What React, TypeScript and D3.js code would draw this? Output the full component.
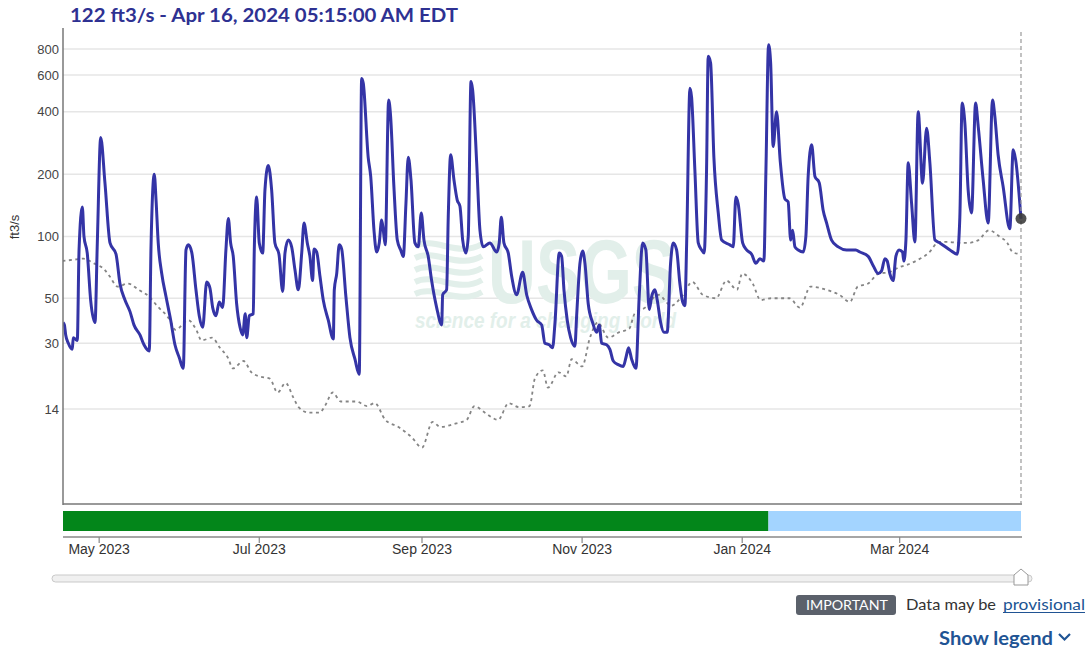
import React from 'react';
import * as d3 from 'd3';

const flowTimes = [
  "2023-04-17T06","2023-04-17T18","2023-04-18T06","2023-04-19T06","2023-04-20T18","2023-04-21T03","2023-04-22T16","2023-04-23T08","2023-04-24T14","2023-04-25T05","2023-04-26T11","2023-04-27T18","2023-04-29T10","2023-04-30T07",
  "2023-05-01T14","2023-05-03T05","2023-05-05T03","2023-05-07T10","2023-05-08T22","2023-05-10T20","2023-05-12T18","2023-05-14T06","2023-05-16T13","2023-05-18T02","2023-05-20T02","2023-05-20T18","2023-05-22T00","2023-05-22T16","2023-05-23T12","2023-05-24T20","2023-05-26T11","2023-05-28T06","2023-05-29T21","2023-05-31T12",
  "2023-06-02T01","2023-06-03T02","2023-06-03T23","2023-06-05T06","2023-06-06T21","2023-06-08T03","2023-06-09T11","2023-06-10T23","2023-06-12T05","2023-06-13T06","2023-06-14T12","2023-06-15T18","2023-06-17T01","2023-06-18T07","2023-06-19T05","2023-06-20T02","2023-06-21T02","2023-06-22T09","2023-06-23T16","2023-06-24T16","2023-06-25T16","2023-06-26T05","2023-06-27T05","2023-06-28T17","2023-06-29T02","2023-06-30T00",
  "2023-07-01T00","2023-07-02T07","2023-07-03T04","2023-07-04T10","2023-07-05T17","2023-07-06T23","2023-07-08T12","2023-07-09T22","2023-07-10T19","2023-07-12T01","2023-07-13T08","2023-07-14T14","2023-07-15T21","2023-07-17T04","2023-07-18T01","2023-07-19T07","2023-07-20T07","2023-07-21T08","2023-07-21T20","2023-07-22T21","2023-07-24T03","2023-07-25T09","2023-07-27T07","2023-07-29T05","2023-07-29T14","2023-07-30T12","2023-07-31T11",
  "2023-08-01T09","2023-08-03T00","2023-08-04T13","2023-08-06T11","2023-08-08T02","2023-08-09T00","2023-08-09T15","2023-08-11T12","2023-08-12T11","2023-08-13T17","2023-08-14T17","2023-08-15T17","2023-08-16T15","2023-08-17T06","2023-08-18T00","2023-08-19T07","2023-08-20T01","2023-08-21T07","2023-08-22T14","2023-08-23T21","2023-08-24T21","2023-08-25T21","2023-08-26T18","2023-08-27T19","2023-08-29T07","2023-08-30T14","2023-08-31T17",
  "2023-09-01T18","2023-09-03T09","2023-09-04T16","2023-09-06T14","2023-09-08T12","2023-09-08T21","2023-09-10T09","2023-09-11T00","2023-09-11T22","2023-09-13T04","2023-09-14T10","2023-09-15T11","2023-09-16T12","2023-09-17T18","2023-09-18T15","2023-09-19T16","2023-09-20T07","2023-09-21T20","2023-09-23T02","2023-09-24T08","2023-09-26T21","2023-09-29T11","2023-09-30T10",
  "2023-10-01T05","2023-10-02T05","2023-10-03T21","2023-10-05T04","2023-10-07T01","2023-10-09T08","2023-10-10T21","2023-10-12T18","2023-10-14T16","2023-10-16T14","2023-10-17T20","2023-10-19T11","2023-10-20T18","2023-10-21T16","2023-10-23T07","2023-10-24T05","2023-10-25T02","2023-10-26T08","2023-10-27T15","2023-10-29T06","2023-10-29T22","2023-10-31T04",
  "2023-11-01T05","2023-11-02T02","2023-11-03T08","2023-11-05T00","2023-11-06T13","2023-11-07T12","2023-11-08T11","2023-11-10T08","2023-11-11T14","2023-11-12T21","2023-11-14T18","2023-11-16T16","2023-11-17T17","2023-11-18T17","2023-11-19T21","2023-11-21T12","2023-11-22T18","2023-11-24T01","2023-11-25T07","2023-11-26T14","2023-11-27T12","2023-11-28T18","2023-11-29T15","2023-11-30T22",
  "2023-12-02T04","2023-12-03T10","2023-12-04T17","2023-12-05T17","2023-12-07T00","2023-12-08T06","2023-12-09T07","2023-12-10T04","2023-12-10T20","2023-12-12T02","2023-12-12T17","2023-12-13T23","2023-12-15T06","2023-12-16T13","2023-12-17T12","2023-12-18T10","2023-12-19T01","2023-12-19T23","2023-12-21T05","2023-12-22T21","2023-12-24T04","2023-12-27T07","2023-12-28T14","2023-12-29T14","2023-12-30T11",
  "2024-01-01T04","2024-01-02T16","2024-01-04T14","2024-01-06T05","2024-01-07T18","2024-01-09T06","2024-01-10T01","2024-01-11T01","2024-01-11T20","2024-01-12T19","2024-01-14T02","2024-01-15T12","2024-01-17T06","2024-01-18T12","2024-01-19T11","2024-01-20T05","2024-01-21T02","2024-01-22T08","2024-01-24T06","2024-01-25T06","2024-01-26T03","2024-01-27T11","2024-01-28T17","2024-01-30T08","2024-01-31T20",
  "2024-02-02T04","2024-02-04T01","2024-02-06T14","2024-02-09T18","2024-02-13T07","2024-02-14T20","2024-02-18T00","2024-02-19T22","2024-02-21T19","2024-02-23T02","2024-02-24T09","2024-02-25T06","2024-02-26T06","2024-02-27T12","2024-02-28T13","2024-02-29T19",
  "2024-03-02T02","2024-03-02T14","2024-03-03T09","2024-03-04T06","2024-03-05T13","2024-03-06T19","2024-03-08T01","2024-03-09T17","2024-03-11T06","2024-03-12T12","2024-03-14T10","2024-03-16T07","2024-03-20T03","2024-03-22T22","2024-03-23T22","2024-03-24T19","2024-03-25T20","2024-03-27T02","2024-03-28T09","2024-03-29T22","2024-03-30T22",
  "2024-04-01T19","2024-04-03T17","2024-04-05T09","2024-04-06T06","2024-04-07T12","2024-04-09T10","2024-04-11T23","2024-04-13T06","2024-04-14T04","2024-04-16T05"
];

const flowValues = [
  38, 37, 33, 30, 28, 32, 31, 86, 139, 100, 83, 49, 38, 93,
  300, 181, 93, 82, 59, 49, 43, 37, 33, 29.5, 27.5, 89, 200, 150, 93, 66, 51, 39, 29.5, 25.5,
  22.5, 86, 91, 84, 55, 41, 36, 60, 56, 45, 41, 48, 45, 86, 122, 93, 80, 47, 36, 33, 42, 32, 41, 42, 84, 155,
  93, 83, 168, 220, 168, 93, 82, 54, 83, 96, 89, 69, 55, 83, 116, 93, 80, 61, 87, 84, 64, 49, 39, 31.5, 55, 66, 91,
  87, 51, 32, 25, 21, 578, 548, 241, 195, 107, 84, 93, 120, 107, 91, 455, 380, 174, 96, 86, 80, 144, 241, 188, 93, 89, 130,
  96, 80, 61, 45, 37, 52, 55, 124, 248, 188, 150, 140, 96, 83, 100, 558, 509, 227, 107, 89, 93, 84, 93,
  124, 93, 83, 64, 52, 67, 52, 44, 39, 37, 30, 29.5, 28.5, 38, 83, 80, 55, 39, 32, 29, 41, 74,
  85, 74, 47, 38, 34, 37, 30, 29.5, 28, 24.5, 23.5, 23, 25.5, 28.5, 25, 22.5, 51, 93, 86, 44, 51, 55, 49, 38,
  34, 34, 74, 93, 86, 59, 48, 46, 93, 518, 470, 210, 93, 86, 83, 210, 738, 686, 241, 130, 96, 91, 89, 155, 144,
  93, 86, 82, 74, 78, 76, 210, 840, 686, 272, 400, 230, 152, 147, 96, 107, 89, 86, 84, 100, 195, 277, 195, 182, 134,
  116, 96, 89, 86, 86, 84, 80, 72, 66, 68, 78, 76, 66, 61, 80, 86,
  84, 76, 96, 227, 144, 94, 400, 181, 333, 227, 96, 93, 86, 82, 124, 440, 352, 168, 130, 440, 340,
  188, 116, 455, 380, 248, 174, 109, 262, 235, 122
];

const medianDates = [
  "2023-04-17","2023-04-21","2023-04-25","2023-04-29","2023-05-03","2023-05-05","2023-05-08","2023-05-12","2023-05-16","2023-05-20","2023-05-23","2023-05-28","2023-05-30",
  "2023-06-04","2023-06-07","2023-06-09","2023-06-13","2023-06-16","2023-06-19","2023-06-21","2023-06-25","2023-06-28",
  "2023-07-01","2023-07-05","2023-07-08","2023-07-11","2023-07-14","2023-07-16","2023-07-20","2023-07-24","2023-07-26","2023-07-29",
  "2023-08-01","2023-08-07","2023-08-11","2023-08-14","2023-08-18","2023-08-23","2023-08-28",
  "2023-09-01","2023-09-05","2023-09-08","2023-09-14","2023-09-18","2023-09-21","2023-09-25","2023-09-30",
  "2023-10-04","2023-10-08","2023-10-12","2023-10-14","2023-10-17","2023-10-19","2023-10-23","2023-10-26","2023-10-28",
  "2023-11-01","2023-11-04","2023-11-07","2023-11-11","2023-11-15","2023-11-19","2023-11-21","2023-11-25","2023-11-30",
  "2023-12-05","2023-12-09","2023-12-13","2023-12-17","2023-12-22","2023-12-26","2023-12-30",
  "2024-01-01","2024-01-05","2024-01-08","2024-01-12","2024-01-17","2024-01-19","2024-01-23","2024-01-27",
  "2024-02-02","2024-02-07","2024-02-11","2024-02-14","2024-02-18","2024-02-22","2024-02-26",
  "2024-03-01","2024-03-04","2024-03-08","2024-03-12","2024-03-16","2024-03-20","2024-03-23","2024-03-27","2024-03-31",
  "2024-04-04","2024-04-08","2024-04-11","2024-04-13","2024-04-16"
];

const medianValues = [
  76, 77, 78, 74, 69, 64, 57, 59, 55, 51, 46, 39, 35,
  39, 35, 31, 32, 28.5, 25.5, 22.5, 24.5, 21.5,
  20.5, 20, 17, 19, 16, 14.3, 13.4, 13.4, 14.5, 17,
  15.3, 15.3, 14.5, 15, 12.3, 11.3, 10,
  8.8, 12, 11.3, 11.8, 12.3, 14.5, 13.4, 12.3,
  15, 14.3, 14.5, 20, 22, 18, 21.5, 20.5, 25,
  23, 32, 38, 32, 34, 35.5, 42, 45, 52,
  46, 51, 60, 52, 50, 61, 55,
  66, 59, 49, 50, 50, 50, 45, 57,
  55, 52, 48, 57, 59, 66, 67,
  71, 73, 77, 83, 94, 94, 93, 93, 96,
  107, 100, 93, 84, 82
];

const yTickValues = [14, 30, 50, 100, 200, 400, 600, 800];
const xTickDates = ["2023-05-01", "2023-07-01", "2023-09-01", "2023-11-01", "2024-01-01", "2024-03-01"];
const periodStart = "2023-04-17T05:15";
const periodEnd = "2024-04-16T05:15";
const approvedThrough = "2024-01-11T00:00";
const latestValue = 122;
const titleText = "122 ft3/s - Apr 16, 2024 05:15:00 AM EDT";
const yAxisLabel = "ft3/s";

export default function App() {
  const W = 1089, H = 648;
  const L = 63, R = 1021, T = 32, B = 504;
  const parseH = d3.timeParse("%Y-%m-%dT%H");
  const parseD = d3.timeParse("%Y-%m-%d");
  const parseM = d3.timeParse("%Y-%m-%dT%H:%M");
  const start = parseM(periodStart) as Date;
  const end = parseM(periodEnd) as Date;
  const x = d3.scaleTime().domain([start, end]).range([L, R]);
  const y = d3.scaleSymlog().constant(1).domain([4.25, 966]).range([B, T]);

  const flow = flowTimes.map((t, i) => ({ t: parseH(t) as Date, v: flowValues[i] }));
  const median = medianDates.map((t, i) => ({ t: parseD(t) as Date, v: medianValues[i] }));
  const line = d3.line<{ t: Date; v: number }>().x(d => x(d.t)).y(d => y(d.v)).curve(d3.curveMonotoneX);
  const fmt = d3.timeFormat("%b %Y");
  const approvedX = x(parseM(approvedThrough) as Date);
  const axisFont = "'Liberation Sans', Arial, sans-serif";
  const uiFont = "Lato, 'Open Sans', sans-serif";
  const wm = "#e2efea";

  return (
    <svg width={W} height={H} style={{ position: 'absolute', left: 0, top: 0, display: 'block', background: '#fff' }}>
      <defs>
        <clipPath id="plotclip"><rect x={L} y={T - 4} width={R - L + 6} height={B - T + 4} /></clipPath>
      </defs>
      <text x={70} y={22} fontFamily={uiFont} fontWeight="bold" fontSize={18} fill="#2e3192" textLength={388} lengthAdjust="spacingAndGlyphs">{titleText}</text>

      {/* grid */}
      {yTickValues.map(v => (
        <line key={v} x1={L} x2={R} y1={y(v)} y2={y(v)} stroke="#e6e6e6" strokeWidth={1.5} />
      ))}

      {/* watermark */}
      <g>
        {[0, 1, 2, 3, 4].map(i => (
          <path key={i} d={`M415,${246 + i * 12} C435,${236 + i * 12} 458,${258 + i * 12} 482,${244 + i * 12}`} stroke={wm} strokeWidth={6} fill="none" />
        ))}
        <text x={488} y={303} fontFamily={axisFont} fontWeight="bold" fontSize={90} fill={wm} textLength={188} lengthAdjust="spacingAndGlyphs">USGS</text>
        <text x={415} y={328} fontFamily={axisFont} fontWeight="bold" fontStyle="italic" fontSize={22} fill={wm} textLength={261} lengthAdjust="spacingAndGlyphs">science for a changing world</text>
      </g>

      {/* y axis labels */}
      {yTickValues.map(v => (
        <text key={v} x={59} y={y(v) + 4.5} textAnchor="end" fontFamily={axisFont} fontSize={13} fill="#444">{v}</text>
      ))}
      <text transform={`translate(19,227) rotate(-90)`} textAnchor="middle" fontFamily={axisFont} fontSize={13} fill="#333">{yAxisLabel}</text>

      <g clipPath="url(#plotclip)">
        <path d={line(median) || ''} fill="none" stroke="#858585" strokeWidth={1.8} strokeDasharray="3 3.5" />
        <path d={line(flow) || ''} fill="none" stroke="#3434a6" strokeWidth={3} strokeLinejoin="round" />
      </g>

      {/* axes frame */}
      <line x1={L} x2={L} y1={28} y2={B + 1} stroke="#777" strokeWidth={1.5} />
      <line x1={L} x2={R + 1} y1={B} y2={B} stroke="#777" strokeWidth={1.5} />
      <line x1={R} x2={R} y1={T} y2={B} stroke="#999" strokeWidth={1.2} strokeDasharray="4 3" />
      <circle cx={x(end)} cy={y(latestValue)} r={5.5} fill="#333" fillOpacity={0.85} />

      {/* approval bar */}
      <rect x={L} y={511} width={approvedX - L} height={20} fill="#03861a" />
      <rect x={approvedX} y={511} width={R - approvedX} height={20} fill="#a3d4ff" />

      {/* x axis */}
      <line x1={L} x2={R + 1} y1={537} y2={537} stroke="#888" strokeWidth={1.5} />
      {xTickDates.map(s => {
        const d = parseD(s) as Date;
        const xx = x(d);
        return (
          <g key={s}>
            <line x1={xx} x2={xx} y1={537} y2={543} stroke="#888" strokeWidth={1.2} />
            <text x={xx} y={554} textAnchor="middle" fontFamily={axisFont} fontSize={14} fill="#333">{fmt(d)}</text>
          </g>
        );
      })}

      {/* slider */}
      <rect x={52} y={575} width={980} height={7} rx={3.5} fill="#f0f0f0" stroke="#c9c9c9" />
      <path d="M1014,585 L1014,575 L1021,569 L1028,575 L1028,585 Z" fill="#fff" stroke="#999" strokeWidth={1} />

      {/* important note */}
      <rect x={796} y={595} width={100} height={20} rx={3} fill="#5b616b" />
      <text x={806} y={610} fontFamily={uiFont} fontSize={14} fill="#fff" textLength={82} lengthAdjust="spacingAndGlyphs">IMPORTANT</text>
      <text x={906} y={610} fontFamily={uiFont} fontSize={16} fill="#333" textLength={90} lengthAdjust="spacingAndGlyphs">Data may be</text>
      <text x={1003} y={610} fontFamily={uiFont} fontSize={16} fill="#205493" textLength={82} lengthAdjust="spacingAndGlyphs">provisional</text>
      <line x1={1003} x2={1085} y1={612.5} y2={612.5} stroke="#205493" strokeWidth={1} />

      <text x={939} y={645} fontFamily={uiFont} fontWeight="bold" fontSize={19} fill="#1f5494" textLength={114} lengthAdjust="spacingAndGlyphs">Show legend</text>
      <polyline points="1059,634 1064.5,639.5 1070,634" fill="none" stroke="#1f5494" strokeWidth={2.2} />
    </svg>
  );
}
